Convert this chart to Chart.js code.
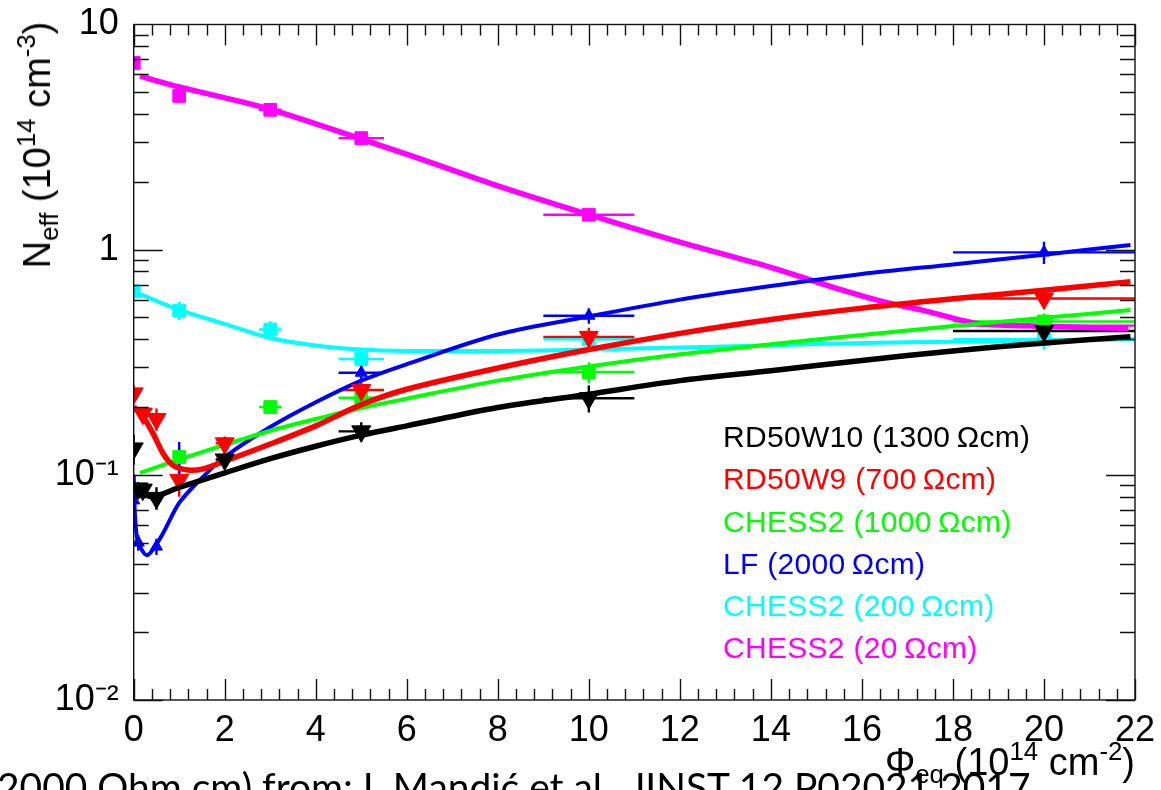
<!DOCTYPE html>
<html><head><meta charset="utf-8">
<script src="https://cdn.jsdelivr.net/npm/chart.js@4.4.1/dist/chart.umd.min.js"></script>
<style>
html,body{margin:0;padding:0;background:#fff;overflow:hidden;width:1161px;height:790px;}
#wrap{position:relative;width:1161px;height:790px;overflow:hidden;background:#fff;}
canvas{position:absolute;left:0;top:0;}
.t{position:absolute;white-space:nowrap;font-family:"Liberation Sans",Arial,sans-serif;line-height:1;}
.sup{font-size:0.68em;position:relative;top:-0.6em;}
.sub{font-size:0.68em;position:relative;top:0.3em;}
</style></head>
<body><div id="wrap"><canvas id="c" width="1161" height="790"></canvas>
<div class="t" id="ytitle" style="font-size:38px;left:37px;top:145px;transform:translate(-50%,-50%) rotate(-90deg);">N<span class="sub">eff</span> (10<span class="sup">14</span> cm<span class="sup">-3</span>)</div>
<div class="t" id="xtitle" style="font-size:38px;right:26px;top:743px;">&Phi;<span class="sub">eq</span> (10<span class="sup">14</span> cm<span class="sup">-2</span>)</div>
<div id="legend"></div>
<div class="t" id="cap" style="font-family:Lato,'Open Sans',sans-serif;font-size:34px;left:-3px;top:767px;">2000 Ohm cm) from: I. Mandić et al., JINST 12 P02021 2017</div>
</div>
<script>
// ---- data ----
const seriesNames = ["RD50W10 (1300\u2009\u03A9cm)", "RD50W9 (700\u2009\u03A9cm)", "CHESS2 (1000\u2009\u03A9cm)", "LF (2000\u2009\u03A9cm)", "CHESS2 (200\u2009\u03A9cm)", "CHESS2 (20\u2009\u03A9cm)"];
const seriesColors = ["#000000", "#ff0000", "#00ff00", "#0000ff", "#00ffff", "#ff00ff"];

const blackX = [0, 0.1, 0.2, 0.5, 2, 5, 10, 20];
const blackY = [0.131, 0.087, 0.086, 0.079, 0.117, 0.156, 0.219, 0.435];
const blackXErr = [0, 0, 0, 0.05, 0.2, 0.5, 1, 2];
const blackYErr = [0.02, 0.006, 0.006, 0.009, 0.01, 0.015, 0.03, 0.06];

const redX = [0, 0.2, 0.5, 1, 2, 5, 10, 20];
const redY = [0.23, 0.187, 0.177, 0.095, 0.138, 0.238, 0.41, 0.607];
const redXErr = [0, 0, 0.05, 0.1, 0.2, 0.5, 1, 2];
const redYErr = [0.02, 0.012, 0.02, 0.015, 0.01, 0.02, 0.04, 0.06];

const greenX = [1, 3, 5, 10, 20];
const greenY = [0.12, 0.2, 0.22, 0.286, 0.48];
const greenXErr = [0.1, 0.25, 0.5, 1, 2];
const greenYErr = [0.01, 0.012, 0.015, 0.03, 0.04];

const blueX = [0, 0.1, 0.5, 1, 5, 10, 20];
const blueY = [0.077, 0.05, 0.048, 0.12, 0.284, 0.509, 0.973];
const blueXErr = [0, 0, 0.05, 0.1, 0.5, 1, 2];
const blueYErr = [0.02, 0.004, 0.004, 0.02, 0.02, 0.04, 0.11];

const cyanX = [0, 1, 3, 5, 10, 20];
const cyanY = [0.653, 0.536, 0.442, 0.327, 0.40, 0.40];
const cyanXErr = [0, 0.1, 0.25, 0.5, 1, 2];
const cyanYErr = [0.03, 0.05, 0.04, 0.02, 0.02, 0.04];

const magentaX = [0, 1, 3, 5, 10, 20];
const magentaY = [6.75, 4.82, 4.18, 3.13, 1.43, 0.46];
const magentaXErr = [0, 0.1, 0.25, 0.5, 1, 2];
const magentaYErr = [0.35, 0.3, 0.15, 0.15, 0.08, 0.03];

// fitted curves
const blackFitX = [0, 0.4, 1, 2, 3, 4, 5, 6, 8, 10, 12, 14, 16, 18, 20, 21.9];
const blackFitY = [0.088, 0.08, 0.088, 0.102, 0.118, 0.134, 0.15, 0.165, 0.199, 0.228, 0.262, 0.29, 0.322, 0.355, 0.385, 0.41];
const redFitX = [0, 0.2, 0.43, 0.65, 0.87, 1.2, 1.5, 2, 3, 4, 5, 6, 8, 10, 12, 14, 16, 18, 20, 21.9];
const redFitY = [0.2, 0.182, 0.152, 0.124, 0.11, 0.105, 0.106, 0.115, 0.137, 0.165, 0.205, 0.24, 0.298, 0.36, 0.425, 0.49, 0.55, 0.605, 0.66, 0.72];
const greenFitX = [0.14, 1, 2, 3, 4, 5, 6, 8, 10, 12, 14, 16, 18, 20, 21.9];
const greenFitY = [0.102, 0.117, 0.136, 0.157, 0.177, 0.198, 0.218, 0.262, 0.303, 0.343, 0.38, 0.418, 0.458, 0.498, 0.54];
const blueFitX = [0, 0.03, 0.1, 0.3, 0.6, 1, 1.5, 2, 3, 4, 5, 6, 8, 10, 12, 14, 16, 18, 20, 21.9];
const blueFitY = [0.1, 0.065, 0.05, 0.044, 0.053, 0.075, 0.097, 0.12, 0.163, 0.21, 0.262, 0.31, 0.42, 0.505, 0.6, 0.69, 0.78, 0.86, 0.95, 1.05];
const cyanFitX = [0, 1, 2, 3, 4, 5, 6, 8, 10, 12, 14, 16, 18, 20, 22];
const cyanFitY = [0.653, 0.54, 0.468, 0.405, 0.375, 0.36, 0.355, 0.355, 0.36, 0.368, 0.376, 0.385, 0.39, 0.395, 0.40];
const magentaFitX = [0.14, 1, 3, 5, 6.3, 8, 10, 12, 14, 15.5, 16.5, 17.3, 18.2, 18.6, 20, 21.85];
const magentaFitY = [5.9, 5.28, 4.2, 3.1, 2.53, 1.92, 1.43, 1.08, 0.834, 0.668, 0.585, 0.54, 0.485, 0.468, 0.457, 0.446];

const xTickStep = 2;
const yTickVals = [0.01, 0.1, 1, 10];
const yTickLabels = ["10\u207B\u00B2", "10\u207B\u00B9", "1", "10"];

// ---- build ----
const zip = (xs, ys) => xs.map((v, i) => ({x: v, y: ys[i]}));
const series = [
  {pX: blackX, pY: blackY, xe: blackXErr, ye: blackYErr, fX: blackFitX, fY: blackFitY, style: 'triangle', rot: 180, r: 11, lw: 5.5},
  {pX: redX, pY: redY, xe: redXErr, ye: redYErr, fX: redFitX, fY: redFitY, style: 'triangle', rot: 180, r: 11, lw: 5.5},
  {pX: greenX, pY: greenY, xe: greenXErr, ye: greenYErr, fX: greenFitX, fY: greenFitY, style: 'rect', rot: 0, r: 9, lw: 4},
  {pX: blueX, pY: blueY, xe: blueXErr, ye: blueYErr, fX: blueFitX, fY: blueFitY, style: 'triangle', rot: 0, r: 7, lw: 4},
  {pX: cyanX, pY: cyanY, xe: cyanXErr, ye: cyanYErr, fX: cyanFitX, fY: cyanFitY, style: 'rect', rot: 0, r: 9, lw: 4},
  {pX: magentaX, pY: magentaY, xe: magentaXErr, ye: magentaYErr, fX: magentaFitX, fY: magentaFitY, style: 'rect', rot: 0, r: 9, lw: 5.5}
];

const datasets = [];
series.forEach((s, i) => {
  const c = seriesColors[i];
  datasets.push({label: seriesNames[i] + ' fit', data: zip(s.fX, s.fY), borderColor: c, borderWidth: s.lw, pointRadius: 0, tension: 0.3, fill: false, order: i * 2});
  datasets.push({label: seriesNames[i], data: zip(s.pX, s.pY), showLine: false, pointStyle: s.style, rotation: s.rot, pointRadius: s.r, backgroundColor: c, borderColor: c, pointBorderWidth: 1, order: i * 2 + 1, errX: s.xe, errY: s.ye});
});

const errorBars = {
  id: 'errorBars',
  beforeDatasetsDraw(chart) {
    const {ctx, chartArea, scales: {x, y}} = chart;
    ctx.save();
    ctx.beginPath(); ctx.rect(chartArea.left, chartArea.top, chartArea.right - chartArea.left, chartArea.bottom - chartArea.top); ctx.clip();
    chart.data.datasets.forEach(ds => {
      if (!ds.errX) return;
      ctx.strokeStyle = ds.borderColor; ctx.lineWidth = 2.4;
      ds.data.forEach((p, k) => {
        const px = x.getPixelForValue(p.x), py = y.getPixelForValue(p.y);
        const ex = ds.errX[k], ey = ds.errY[k];
        ctx.beginPath();
        if (ex > 0) { ctx.moveTo(x.getPixelForValue(p.x - ex), py); ctx.lineTo(x.getPixelForValue(p.x + ex), py); }
        if (ey > 0) { ctx.moveTo(px, y.getPixelForValue(Math.max(p.y - ey, 0.011))); ctx.lineTo(px, y.getPixelForValue(p.y + ey)); }
        ctx.stroke();
      });
    });
    ctx.restore();
  }
};

const frameTicks = {
  id: 'frameTicks',
  afterDraw(chart) {
    const {ctx, chartArea: {left, right, top, bottom}, scales: {x, y}} = chart;
    ctx.save();
    ctx.strokeStyle = '#111'; ctx.lineWidth = 1.4;
    ctx.strokeRect(left, top, right - left, bottom - top);
    ctx.beginPath();
    for (let i = 0; i <= 55; i++) {
      const v = i * 0.4; const px = Math.round(x.getPixelForValue(v)) + 0.5;
      const major = (i % 5 === 0); const L = major ? 21 : 11;
      ctx.moveTo(px, bottom); ctx.lineTo(px, bottom - L);
      ctx.moveTo(px, top); ctx.lineTo(px, top + L);
    }
    for (let d = -2; d <= 0; d++) {
      for (let m = 1; m <= 9; m++) {
        const v = m * Math.pow(10, d); const py = Math.round(y.getPixelForValue(v)) + 0.5;
        const L = m === 1 ? 29 : 15;
        ctx.moveTo(left, py); ctx.lineTo(left + L, py);
        ctx.moveTo(right, py); ctx.lineTo(right - L, py);
      }
    }
    ctx.stroke();
    ctx.restore();
  }
};

const tickFont = {family: "'Liberation Sans', Arial, sans-serif", size: 36};
new Chart(document.getElementById('c'), {
  type: 'line',
  data: {datasets},
  options: {
    responsive: false, animation: false, events: [],
    layout: {padding: {left: 0, right: 26, top: 24.5, bottom: 0}},
    plugins: {legend: {display: false}, tooltip: {enabled: false}},
    scales: {
      x: {type: 'linear', min: 0, max: 22, grid: {display: false, drawTicks: false}, border: {display: false},
          ticks: {stepSize: xTickStep, font: tickFont, color: '#000', padding: 9, maxRotation: 0, autoSkip: false},
          afterFit(s) { s.height = 90; s.paddingLeft = 0; s.paddingRight = 0; s.paddingTop = 0; s.paddingBottom = 0; }},
      y: {type: 'logarithmic', min: 0.01, max: 10, grid: {display: false, drawTicks: false}, border: {display: false},
          afterBuildTicks(s) { s.ticks = yTickVals.map(v => ({value: v})); },
          ticks: {font: tickFont, color: '#000', padding: 15, autoSkip: false,
                  callback(v) { const k = yTickVals.findIndex(t => Math.abs(t - v) / t < 1e-6); return k >= 0 ? yTickLabels[k] : ''; }},
          afterFit(s) { s.width = 133.7; s.paddingTop = 0; s.paddingBottom = 0; s.paddingLeft = 0; s.paddingRight = 0; }}
    }
  },
  plugins: [errorBars, frameTicks]
});

// legend (text only, colored)
const leg = document.getElementById('legend');
seriesNames.forEach((n, i) => {
  const d = document.createElement('div');
  d.className = 't'; d.textContent = n;
  d.style.fontSize = '30px'; d.style.letterSpacing = '0.3px'; d.style.color = seriesColors[i];
  d.style.left = '723px';
  d.style.top = (447.3 + i * 42.3 - 0.8465 * 30).toFixed(1) + 'px';
  leg.appendChild(d);
});
// caption: fit width
const cap = document.getElementById('cap');
const w = cap.getBoundingClientRect().width;
const fs = 34 * 1034 / w;
cap.style.fontSize = fs.toFixed(2) + 'px';
cap.style.top = (774 - 0.17 * fs).toFixed(1) + 'px';
</script>
</body></html>
